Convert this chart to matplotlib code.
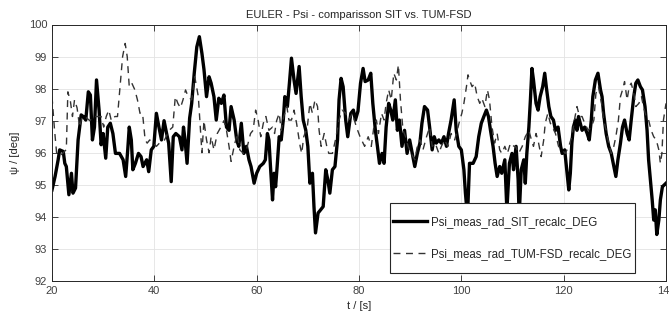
import matplotlib
matplotlib.use("Agg")
from matplotlib import pyplot as plt
from matplotlib.patches import Rectangle

# Psi SIT (solid)
t_sit = [20.0, 20.6, 21.2, 21.5, 22.2, 22.5, 22.8, 23.3, 23.8, 24.1, 24.6, 25.1, 25.7, 26.1, 26.6,
         27.1, 27.5, 27.9, 28.3, 28.7, 29.2, 29.6, 30.0, 30.5, 30.9, 31.4, 31.9, 32.4, 33.2, 33.9,
         34.4, 34.8, 35.1, 35.5, 35.8, 36.3, 36.9, 37.4, 37.8, 38.5, 38.9, 39.4, 39.9, 40.4, 40.9,
         41.4, 41.9, 42.4, 42.8, 43.3, 43.7, 44.2, 44.9, 45.4, 45.7, 46.0, 46.4, 46.9, 47.3, 47.8,
         48.3, 48.8, 49.3, 49.7, 50.2, 50.7, 51.1, 51.65, 52.1, 52.6, 53.1, 53.6, 54.1, 54.6, 55.0,
         55.6, 56.1, 56.5, 57.0, 57.5, 58.0, 58.5, 58.9, 59.5, 60.0, 60.6, 61.3, 61.7, 62.1, 62.4,
         62.7, 63.1, 63.4, 63.7, 64.0, 64.4, 64.8, 65.2, 65.5, 66.0, 66.4, 66.8, 67.3, 67.7, 68.3,
         68.7, 69.1, 69.6, 70.0, 70.4, 70.9, 71.2, 71.5, 72.0, 72.5, 73.0, 73.5, 73.9, 74.3, 74.8,
         75.3, 75.8, 76.1, 76.5, 76.9, 77.4, 77.8, 78.4, 78.9, 79.3, 79.8, 80.3, 80.8, 81.2, 81.8,
         82.3, 82.7, 83.2, 83.6, 84.0, 84.5, 84.9, 85.3, 85.8, 86.2, 86.6, 87.1, 87.5, 87.9, 88.4,
         88.9, 89.4, 89.9, 90.4, 90.9, 91.4, 91.9, 92.3, 92.8, 93.4, 93.8, 94.3, 94.7, 95.1, 95.6,
         96.1, 96.6, 97.1, 97.5, 98.0, 98.6, 99.0, 99.5, 100.0, 100.5, 100.8, 101.2, 101.6, 102.3,
         102.9, 103.4, 103.9, 104.4, 104.9, 105.3, 105.7, 106.2, 106.6, 107.0, 107.5, 107.9, 108.5,
         108.9, 109.4, 109.9, 110.2, 110.7, 111.1, 111.3, 111.7, 112.2, 112.5, 112.8, 113.2, 113.5,
         113.8, 114.1, 114.6, 115.0, 115.4, 115.9, 116.3, 116.6, 117.1, 117.5, 118.0, 118.4, 118.9,
         119.4, 119.7, 120.2, 120.6, 121.0, 121.3, 121.6, 121.9, 122.3, 122.6, 122.9, 123.6, 124.1,
         124.6, 125.0, 125.4, 125.7, 126.2, 126.7, 127.2, 127.5, 127.8, 128.3, 128.8, 129.3, 129.8,
         130.2, 130.6, 131.1, 131.5, 131.9, 132.4, 132.8, 133.2, 133.7, 134.1, 134.5, 135.0, 135.4,
         135.9, 136.3, 136.6, 136.9, 137.3, 137.6, 137.9, 138.2, 138.6, 138.9, 139.3, 140.0]
psi_sit = [94.84, 95.26, 95.78, 96.09, 96.04, 95.67, 95.57, 94.69, 95.36, 94.74, 94.9, 96.4, 97.18,
           97.13, 97.02, 97.9, 97.8, 96.4, 96.8, 98.27, 97.33, 96.25, 96.6, 95.83, 96.8, 96.92,
           96.6, 95.98, 95.98, 95.78, 95.26, 96.09, 96.8, 96.4, 95.47, 95.67, 95.98, 95.88, 95.57,
           95.78, 95.41, 96.09, 96.2, 97.23, 96.8, 96.4, 97.0, 96.6, 96.3, 95.1, 96.5, 96.6, 96.5,
           96.09, 96.8, 96.4, 95.67, 97.08, 97.54, 98.48, 99.3, 99.62, 99.1, 98.6, 97.75, 98.37,
           98.17, 97.75, 97.02, 97.7, 97.54, 97.8, 96.8, 96.7, 97.44, 97.02, 96.4, 96.2, 96.92,
           95.98, 96.2, 95.78, 95.57, 95.05, 95.36, 95.57, 95.67, 95.78, 96.6, 96.4, 95.57, 94.53,
           95.36, 94.94, 95.57, 96.5, 96.4, 97.02, 97.75, 97.44, 98.17, 98.95, 98.27, 97.85, 98.69,
           97.75, 97.02, 96.7, 96.2, 95.05, 95.36, 94.32, 93.5, 94.12, 94.22, 94.32, 95.47, 95.16,
           94.74, 95.47, 95.57, 96.4, 97.65, 98.32, 98.06, 97.02, 96.5, 97.23, 97.33, 97.02, 97.3,
           98.17, 98.63, 98.22, 98.27, 98.48, 97.54, 96.7, 96.2, 95.67, 95.98, 95.67, 96.8, 97.54,
           97.33, 97.02, 97.65, 96.7, 97.02, 96.2, 96.7, 95.98, 96.4, 95.98, 95.57, 95.98, 96.3,
           96.92, 97.44, 97.33, 96.8, 96.09, 96.5, 96.3, 96.4, 96.3, 96.5, 96.2, 96.6, 97.02, 97.65,
           96.7, 96.2, 96.09, 95.47, 94.74, 94.0, 95.67, 95.67, 95.88, 96.5, 96.92, 97.13, 97.33,
           97.13, 96.7, 96.2, 95.67, 95.26, 95.57, 95.36, 95.78, 94.2, 95.67, 95.98, 95.47, 96.2,
           95.16, 94.0, 95.47, 95.78, 95.05, 95.98, 96.8, 97.65, 98.63, 98.27, 97.54, 97.33, 97.75,
           98.06, 98.48, 98.06, 97.44, 97.13, 97.02, 96.7, 96.8, 96.2, 95.98, 96.09, 95.47, 94.84,
           95.36, 96.3, 96.8, 97.02, 96.7, 97.13, 96.7, 96.8, 96.6, 96.4, 97.02, 97.75, 98.27, 98.48,
           97.96, 97.75, 97.23, 96.6, 96.2, 95.98, 95.57, 95.26, 95.78, 96.3, 96.8, 97.02, 96.6,
           96.4, 97.02, 97.75, 98.17, 98.27, 98.06, 97.96, 97.44, 96.7, 95.78, 95.26, 94.53, 93.9,
           94.22, 93.45, 93.9, 94.53, 94.94, 95.05]

# Psi TUM-FSD (dashed)
t_tum = [20.0, 20.5, 20.9, 21.5, 22.2, 22.8, 23.1, 23.6, 24.0, 24.4, 24.9, 25.4, 25.9, 26.4, 27.4,
         28.0, 28.9, 29.6, 30.1, 30.6, 31.1, 31.6, 32.3, 32.8, 33.3, 33.8, 34.3, 34.7, 35.1, 35.6,
         36.2, 36.7, 37.2, 37.7, 38.2, 38.6, 39.1, 39.8, 40.4, 41.0, 42.0, 42.9, 43.6, 44.1, 44.6,
         45.1, 45.6, 46.1, 46.6, 47.3, 47.9, 48.6, 49.3, 49.7, 50.2, 50.7, 51.1, 51.65, 52.3, 53.0,
         53.6, 54.1, 54.6, 55.0, 55.6, 56.2, 56.7, 57.4, 58.0, 58.8, 59.3, 59.8, 60.3, 60.8, 61.3,
         61.8, 62.4, 63.1, 63.5, 63.9, 64.4, 64.8, 65.3, 65.9, 66.3, 66.8, 67.3, 67.8, 68.5, 68.8,
         69.2, 69.9, 70.4, 70.9, 71.4, 71.9, 72.2, 72.6, 73.2, 73.7, 74.1, 74.8, 75.4, 76.1, 76.7,
         77.4, 78.0, 78.7, 79.5, 80.2, 80.5, 81.1, 81.8, 82.4, 82.9, 83.4, 83.8, 84.4, 84.9, 85.3,
         85.8, 86.3, 86.8, 87.3, 87.7, 88.1, 88.6, 89.1, 89.6, 90.2, 90.9, 91.4, 91.9, 92.5, 93.2,
         93.8, 94.3, 94.9, 95.6, 96.1, 96.7, 97.4, 98.0, 98.7, 99.2, 99.7, 100.1, 100.5, 101.0,
         101.3, 101.6, 102.1, 102.6, 103.1, 103.6, 104.0, 104.6, 105.1, 105.5, 106.0, 106.5, 107.0,
         107.5, 107.9, 108.5, 109.0, 109.6, 110.3, 110.6, 111.2, 111.9, 112.5, 113.2, 113.7, 114.1,
         114.6, 115.1, 115.6, 116.1, 116.4, 116.9, 117.4, 117.8, 118.4, 119.0, 119.7, 120.3, 121.0,
         121.6, 122.1, 122.6, 123.1, 123.6, 124.1, 124.8, 125.4, 125.9, 126.3, 126.8, 127.4, 127.8,
         128.3, 128.8, 129.3, 129.8, 130.2, 130.7, 131.1, 131.5, 131.9, 132.4, 132.8, 133.2, 133.7,
         134.1, 134.7, 135.2, 135.6, 136.1, 136.6, 137.1, 137.6, 138.1, 138.6, 138.9, 139.2, 139.5,
         140.0]
psi_tum = [97.75, 96.7, 96.0, 95.9, 96.0, 96.1, 97.9, 97.6, 97.13, 97.65, 97.4, 96.8, 97.13, 97.13,
           97.0, 97.13, 97.13, 97.13, 96.8, 97.13, 97.33, 97.0, 97.13, 97.13, 98.06, 99.0, 99.41,
           99.0, 98.06, 98.17, 97.96, 97.65, 97.23, 97.23, 96.4, 96.3, 96.4, 96.3, 96.2, 96.3, 96.4,
           96.7, 96.8, 97.75, 97.54, 97.4, 97.65, 97.96, 97.75, 97.65, 98.37, 97.75, 96.0, 97.0,
           96.4, 96.0, 96.5, 96.09, 96.6, 96.8, 97.0, 96.7, 96.2, 95.73, 96.2, 96.6, 96.09, 95.98,
           96.09, 96.6, 96.7, 97.33, 97.0, 96.5, 96.92, 97.13, 96.7, 96.8, 96.6, 97.0, 97.23, 96.7,
           97.13, 97.44, 97.02, 97.02, 97.33, 96.92, 96.2, 95.98, 96.5, 96.8, 97.54, 97.23, 97.65,
           97.44, 96.7, 96.2, 96.6, 96.2, 95.98, 95.98, 96.4, 97.02, 97.33, 97.23, 97.02, 97.23,
           96.8, 96.5, 96.4, 96.2, 96.5, 96.2, 96.8, 97.02, 96.6, 97.23, 97.02, 97.54, 97.96, 97.65,
           98.48, 98.27, 98.74, 97.65, 96.7, 96.5, 96.2, 95.98, 95.78, 96.2, 96.4, 96.09, 96.5,
           96.8, 96.2, 96.3, 95.98, 96.2, 96.4, 96.2, 96.6, 96.4, 96.7, 97.02, 97.23, 97.54, 98.06,
           98.43, 98.27, 98.06, 98.17, 97.75, 97.54, 97.7, 97.44, 97.96, 97.65, 96.8, 96.3, 96.6,
           96.09, 95.98, 96.2, 95.98, 96.3, 96.2, 96.2, 95.98, 96.2, 96.5, 96.7, 96.4, 96.2, 96.6,
           96.3, 95.88, 96.4, 96.92, 97.23, 96.92, 96.8, 96.6, 96.2, 96.09, 95.98, 96.2, 96.5, 97.02,
           97.44, 97.13, 97.13, 96.92, 96.7, 96.8, 97.02, 97.85, 98.06, 97.54, 97.02, 96.7, 96.3,
           95.98, 96.2, 96.5, 97.02, 97.75, 97.96, 98.22, 97.65, 98.06, 98.17, 97.85, 97.44, 97.54,
           97.75, 97.44, 97.13, 97.02, 96.7, 96.5, 96.4, 96.09, 95.67, 95.98, 97.02, 97.54]

x_ticks = [20, 40, 60, 80, 100, 120, 140]
y_ticks = [92, 93, 94, 95, 96, 97, 98, 99, 100]

plt.rcParams['font.family'] = ['Liberation Sans', 'DejaVu Sans']
plt.rcParams['font.size'] = 8

fig = plt.figure(figsize=(6.69, 3.21), dpi=100)
ax = fig.add_axes([52 / 669, 40 / 321, 614 / 669, 256.5 / 321])

ax.plot(t_sit, psi_sit, color='black', linewidth=2.4, label='Psi_meas_rad_SIT_recalc_DEG')
ax.plot(t_tum, psi_tum, color='#333333', linewidth=1.0, linestyle=(0, (5, 4)),
        label='Psi_meas_rad_TUM-FSD_recalc_DEG')

ax.set_xlim(20, 140)
ax.set_ylim(92, 100)
ax.set_xticks(x_ticks)
ax.set_yticks(y_ticks)
ax.grid(True, color='#e3e3e3', linewidth=0.6)
ax.set_axisbelow(True)
ax.tick_params(direction='in', length=4, width=0.6, colors='#262626', labelcolor='#404040',
               top=True, right=True, labelsize=8)
for s in ax.spines.values():
    s.set_color('#262626')
    s.set_linewidth(0.7)

ax.set_title('EULER - Psi - comparisson SIT vs. TUM-FSD', fontsize=8, color='#262626', pad=5)
ax.set_xlabel('t / [s]', fontsize=8, color='#262626', labelpad=4)
ax.set_ylabel('ψ / [deg]', fontsize=8, color='#262626', labelpad=6)

# legend without its own frame; a taller box (matlab style) is drawn around it below
leg = ax.legend(loc='center', bbox_to_anchor=(0.750, 0.1676), frameon=False, fontsize=8.3,
                labelspacing=1.75, handlelength=2.9, borderpad=0.25, handletextpad=0.4)
for txt in leg.get_texts():
    txt.set_color('#262626')

fig.canvas.draw()
bb = leg.get_window_extent().transformed(ax.transAxes.inverted())
extra = 10 / 256.5
box = Rectangle((bb.x0, bb.y0 - extra), bb.width, bb.height + 2 * extra,
                transform=ax.transAxes, facecolor='white', edgecolor='#262626',
                linewidth=0.8, zorder=4.5)
ax.add_patch(box)
leg.set_zorder(5)

fig.savefig('out.png', dpi=100)
